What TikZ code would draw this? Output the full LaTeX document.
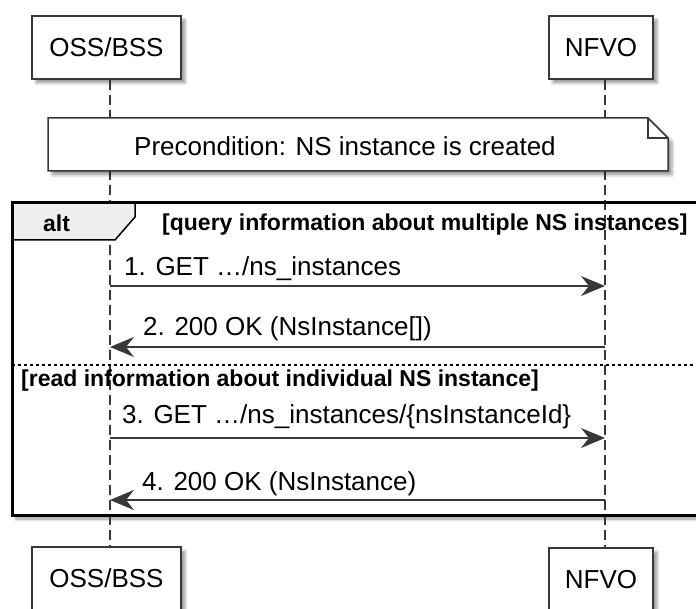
\documentclass[tikz,border=0pt]{standalone}
\usepackage{fontspec}
\setmainfont{Liberation Sans}
\usetikzlibrary{positioning, arrows.meta, shadows.blur}

\definecolor{umlline}{HTML}{383838}
\definecolor{tabgray}{HTML}{EEEEEE}

\tikzset{
  softshadow/.style={blur shadow={shadow xshift=4pt, shadow yshift=-4pt, shadow blur radius=3pt, shadow opacity=40}},
  participant/.style={draw=umlline, line width=2pt, fill=white, minimum height=63pt, inner sep=0pt, font=\fontsize{26}{30}\selectfont, softshadow},
  lifeline/.style={umlline, line width=1.5pt, dash pattern=on 10pt off 5pt},
  msg/.style={umlline, line width=1.5pt, -{Stealth[length=24pt, width=20pt, inset=8pt]}},
  msglabel/.style={anchor=base west, inner sep=0pt, font=\fontsize{26}{30}\selectfont},
  guard/.style={anchor=base west, inner sep=0pt, font=\fontsize{23}{27}\selectfont\bfseries},
}

\begin{document}
\begin{tikzpicture}[x=1pt, y=-1pt]
        \useasboundingbox (0,0) rectangle (696,609);
        \clip (0,0) rectangle (696,609);

        % alt frame background
        \fill[white, softshadow] (12,203) rectangle (730,515);

        % participants
        \node[participant, minimum width=149pt] (ossTop) at (106.5,47.5) {OSS/BSS};
        \node[participant, minimum width=104pt] (nfvoTop) at (601,47.5) {NFVO};
        \node[participant, minimum width=149pt] (ossBot) at (106.5,578.5) {OSS/BSS};
        \node[participant, minimum width=104pt] (nfvoBot) at (601,579.5) {NFVO};

        % lifelines
        \coordinate (oss) at (110,0);
        \coordinate (nfvo) at (605,0);
        \draw[lifeline] (ossTop.south -| oss) -- (ossBot.north -| oss);
        \draw[lifeline] (nfvoTop.south -| nfvo) -- (nfvoBot.north -| nfvo);

        % precondition note
        \draw[umlline, line width=1.5pt, fill=white, softshadow] (48,118) -- (648,118) -- (668,138) -- (668,171) -- (48,171) -- cycle;
        \draw[umlline, line width=1.5pt] (648,118) -- (648,138) -- (668,138);
        \node[inner sep=0pt, font=\fontsize{26}{30}\selectfont] (pre) at (345,146) {Precondition: NS instance is created};

        % alt tab and frame
        \draw[black, line width=1.5pt, fill=tabgray] (12,203) -- (135,203) -- (135,217) -- (115,240) -- (12,240);
        \draw[black, line width=3pt] (730,203) -- (12,203) -- (12,515) -- (730,515);
        \draw[black, line width=1.2pt, dash pattern=on 3pt off 3pt] (12,365) -- (730,365);
        \node[guard] (altLabel) at (43,232) {alt};
        \node[guard] (guardMulti) at (162,231) {[query information about multiple NS instances]};
        \node[guard] (guardSingle) at (21,387) {[read information about individual NS instance]};

        % messages
        \coordinate (r1) at (0,286);
        \coordinate (r2) at (0,347);
        \coordinate (r3) at (0,438);
        \coordinate (r4) at (0,500);
        \draw[msg] (oss |- r1) -- (nfvo |- r1);
        \node[msglabel] (getAll) at (124,276) {1. GET …/ns\_instances};
        \draw[msg] (nfvo |- r2) -- (oss |- r2);
        \node[msglabel] (okAll) at (143,336) {2. 200 OK (NsInstance[])};
        \draw[msg] (oss |- r3) -- (nfvo |- r3);
        \node[msglabel] (getOne) at (122,423) {3. GET …/ns\_instances/\{nsInstanceId\}};
        \draw[msg] (nfvo |- r4) -- (oss |- r4);
        \node[msglabel] (okOne) at (142,490) {4. 200 OK (NsInstance)};
\end{tikzpicture}
\end{document}
